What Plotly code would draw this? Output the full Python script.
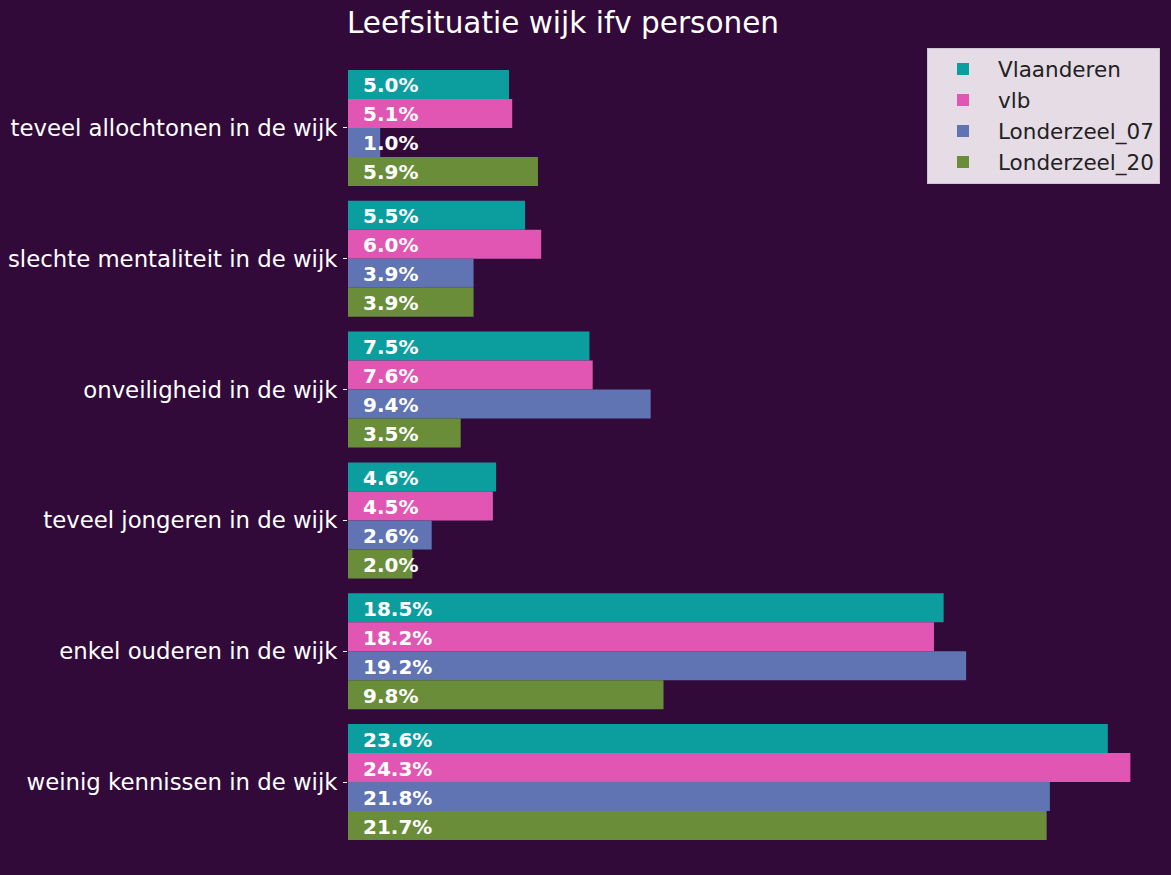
import plotly.graph_objects as go

categories = [
    "teveel allochtonen in de wijk",
    "slechte mentaliteit in de wijk",
    "onveiligheid in de wijk",
    "teveel jongeren in de wijk",
    "enkel ouderen in de wijk",
    "weinig kennissen in de wijk",
]
series_names = ["Vlaanderen", "vlb", "Londerzeel_07", "Londerzeel_20"]
vlaanderen = [5.0, 5.5, 7.5, 4.6, 18.5, 23.6]
vlb = [5.1, 6.0, 7.6, 4.5, 18.2, 24.3]
londerzeel_07 = [1.0, 3.9, 9.4, 2.6, 19.2, 21.8]
londerzeel_20 = [5.9, 3.9, 3.5, 2.0, 9.8, 21.7]
colors = ["#0c9e9f", "#e256b3", "#6073b2", "#6a8d3a"]

all_series = [vlaanderen, vlb, londerzeel_07, londerzeel_20]
bg = "#320a3a"
group_width = 0.887

fig = go.Figure()
for name, vals, col in zip(series_names, all_series, colors):
    fig.add_trace(go.Bar(
        y=categories, x=vals, name=name, orientation="h",
        marker=dict(color=col, line=dict(width=0)),
    ))

annotations = []
n = len(all_series)
bw = group_width / n
for k, vals in enumerate(all_series):
    off = (k - (n - 1) / 2) * bw
    for i, v in enumerate(vals):
        annotations.append(dict(
            x=0, y=i + off, xref="x", yref="y", text=f"{v:.1f}%",
            showarrow=False, xanchor="left", yanchor="middle", xshift=13, yshift=-1,
            font=dict(family="DejaVu Sans", size=20, color="white", weight="bold"),
        ))

fig.update_layout(
    width=1171, height=875,
    paper_bgcolor=bg, plot_bgcolor=bg,
    barmode="group", bargap=1 - group_width, bargroupgap=0,
    margin=dict(l=348, r=2, t=50, b=15),
    font=dict(family="DejaVu Sans", color="white"),
    title=dict(text="Leefsituatie wijk ifv personen", x=563 / 1171, xref="container",
               xanchor="center", y=1 - 23 / 875, yref="container", yanchor="middle",
               font=dict(size=29.5, color="white")),
    xaxis=dict(range=[0, 25.5], showgrid=False, zeroline=False, showticklabels=False,
               ticks="", showline=False),
    yaxis=dict(range=[5.596, -0.596], showgrid=False, zeroline=False, ticks="outside",
               ticklen=4, tickcolor="white", tickfont=dict(size=22.8, color="white"),
               ticklabelstandoff=1, showline=False),
    legend=dict(x=(1160 - 348) / 821, y=1.003, xanchor="right", yanchor="top",
                bgcolor="#e6dce6", bordercolor="#cfc4cf", borderwidth=1,
                font=dict(size=21.5, color="#222222"), traceorder="normal",
                itemwidth=60, tracegroupgap=4),
    annotations=annotations,
)

fig.write_html("out.html", config={"displayModeBar": False},
               post_script="document.body.style.margin='0';document.body.style.background='%s';" % bg)
